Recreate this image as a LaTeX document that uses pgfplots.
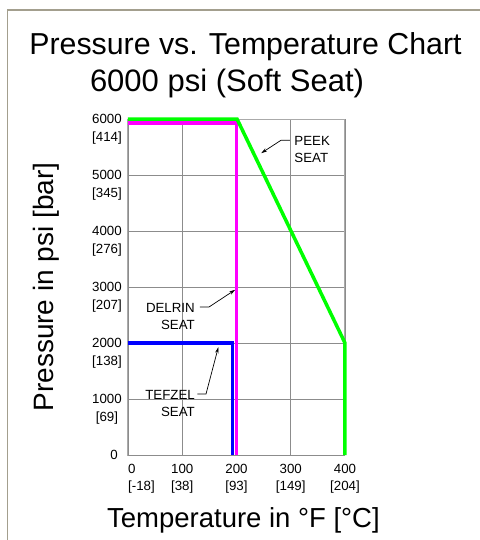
\documentclass[border=0pt]{standalone}
\usepackage{pgfplots}
\pgfplotsset{compat=1.18}
\usepackage{fontspec}
\setmainfont{Liberation Sans}
\usetikzlibrary{arrows.meta}

\definecolor{framegray}{RGB}{163,159,142}
\definecolor{gridgray}{RGB}{140,140,140}
\definecolor{axisgray}{RGB}{170,170,170}
\definecolor{peekgreen}{RGB}{0,255,0}
\definecolor{delrinmag}{RGB}{255,0,255}
\definecolor{tefzelblue}{RGB}{0,0,255}

\newcommand{\tickfont}{\fontsize{13.3bp}{17.5bp}\selectfont}
\newcommand{\notefont}{\fontsize{13.3bp}{17bp}\selectfont}

\begin{document}
\begin{tikzpicture}
    % page = 480 x 540 px, axis origin at px (128,455)
    \useasboundingbox (-128bp,-85bp) rectangle (352bp,455bp);
    \draw[framegray, line width=1.5bp] (-120.5bp,-85bp) -- (-120.5bp,445bp) -- (352bp,445bp);

    \node[anchor=base, inner sep=0pt, font=\fontsize{30.3bp}{36bp}\selectfont] at (117.5bp,400bp) {Pressure vs. Temperature Chart};
    \node[anchor=base, inner sep=0pt, font=\fontsize{31bp}{36bp}\selectfont] at (99bp,363bp) {6000 psi (Soft Seat)};

    \begin{axis}[
        scale only axis, width=217bp, height=336bp,
        xmin=0, xmax=400, ymin=0, ymax=6000,
        clip=false,
        axis line style={draw=axisgray, line width=1bp},
        grid=major, major grid style={draw=gridgray, line width=0.9bp},
        major tick length=0pt,
        xtick={100,200,300,400},
        xticklabels={{100\\{}[38]}, {200\\{}[93]}, {300\\{}[149]}, {400\\{}[204]}},
        extra x ticks={0},
        extra x tick labels={{0\\{}[-18]}},
        extra x tick style={xticklabel style={anchor=north west, align=left}},
        xticklabel style={font=\tickfont, align=center, anchor=north, inner sep=0pt, yshift=-9bp},
        ytick={1000,2000,3000,4000,5000,6000},
        yticklabels={{1000\\{}[69]}, {2000\\{}[138]}, {3000\\{}[207]}, {4000\\{}[276]}, {5000\\{}[345]}, {6000\\{}[414]}},
        extra y ticks={0},
        extra y tick labels={0},
        extra y tick style={yticklabel style={xshift=7bp}},
        yticklabel style={font=\tickfont, align=center, anchor=north, inner sep=0pt, xshift=-21bp, yshift=4.6bp},
        xlabel={Temperature in °F [°C]},
        ylabel={Pressure in psi [bar]},
        xlabel style={font=\fontsize{27.5bp}{33bp}\selectfont, at={(rel axis cs:0.532,0)}, anchor=base, inner sep=0pt, yshift=-72bp},
        ylabel style={font=\fontsize{28bp}{33bp}\selectfont, at={(rel axis cs:-0.3456,0.5)}, rotate=0, anchor=base, inner sep=0pt},
    ]
        % TEFZEL seat
        \addplot[tefzelblue, line width=3.5bp] coordinates {
            (0,2000) (192.5,2000) (192.5,0)
        };
        % DELRIN seat
        \addplot[delrinmag, line width=3.5bp] coordinates {
            (0,5930) (200.4,5930) (200.4,0)
        };
        % PEEK seat
        \addplot[peekgreen, line width=3.5bp] coordinates {
            (0,6000) (201,6000) (400,2000) (400,0)
        };

        % callouts (base anchor = baseline of the last line)
        \draw[line width=0.7bp, -{Stealth[length=6bp,width=3.5bp]}]
            (axis cs:298.6,5620) -- (axis cs:282,5620) -- (axis cs:245.5,5390);
        \node[anchor=base west, align=left, inner sep=0pt, font=\notefont] at (axis cs:306.5,5220) {PEEK\\SEAT};

        \draw[line width=0.7bp, -{Stealth[length=6bp,width=3.5bp]}]
            (axis cs:132.7,2643) -- (axis cs:149.3,2643) -- (axis cs:197.5,2950);
        \node[anchor=base east, align=right, inner sep=0pt, font=\notefont] at (axis cs:123.5,2250) {DELRIN\\SEAT};

        \draw[line width=0.7bp, -{Stealth[length=6bp,width=3.5bp]}]
            (axis cs:127.8,1089) -- (axis cs:143.8,1089) -- (axis cs:166.5,1925);
        \node[anchor=base east, align=right, inner sep=0pt, font=\notefont] at (axis cs:123.5,679) {TEFZEL\\SEAT};
    \end{axis}
\end{tikzpicture}
\end{document}
